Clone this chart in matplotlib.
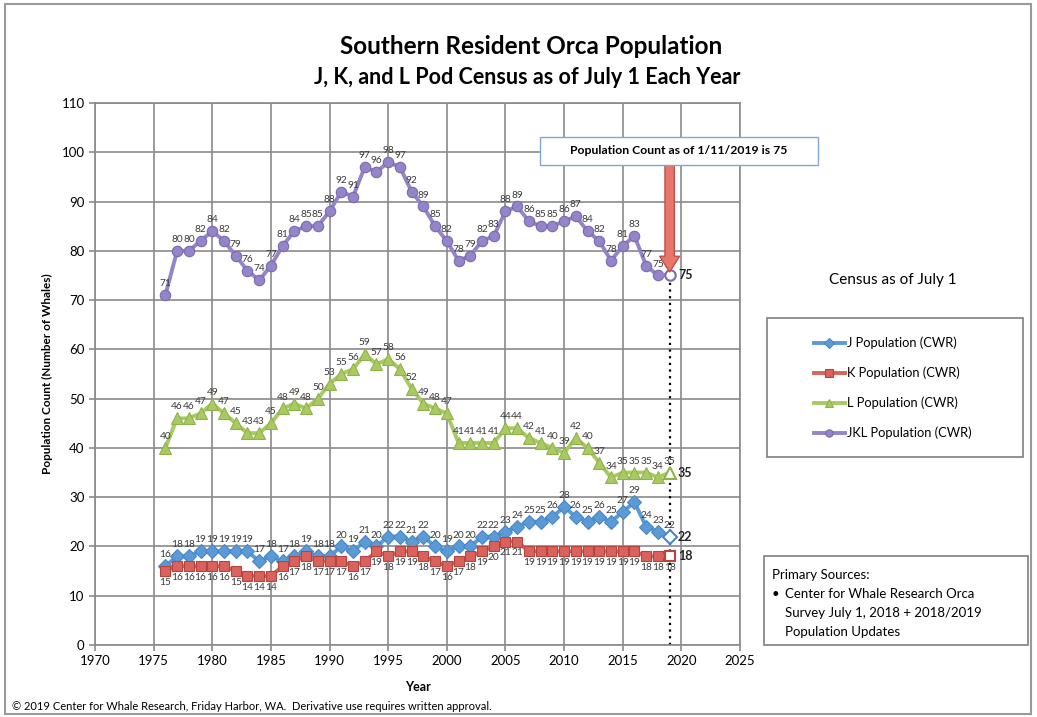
import numpy as np
import matplotlib
matplotlib.use("Agg")
from matplotlib import pyplot as plt, ticker
from matplotlib.patches import Rectangle, FancyArrow

plt.rcParams["font.family"] = ["Lato", "DejaVu Sans"]

# census as of July 1 (2019 = count as of 1/11/2019)
years = list(range(1976, 2020))
j_pop = [16, 18, 18, 19, 19, 19, 19, 19, 17, 18, 17, 18, 19, 18, 18, 20, 19, 21, 20, 22,
         22, 21, 22, 20, 19, 20, 20, 22, 22, 23, 24, 25, 25, 26, 28, 26, 25, 26, 25, 27,
         29, 24, 23, 22]
k_pop = [15, 16, 16, 16, 16, 16, 15, 14, 14, 14, 16, 17, 18, 17, 17, 17, 16, 17, 19, 18,
         19, 19, 18, 17, 16, 17, 18, 19, 20, 21, 21, 19, 19, 19, 19, 19, 19, 19, 19, 19,
         19, 18, 18, 18]
l_pop = [40, 46, 46, 47, 49, 47, 45, 43, 43, 45, 48, 49, 48, 50, 53, 55, 56, 59, 57, 58,
         56, 52, 49, 48, 47, 41, 41, 41, 41, 44, 44, 42, 41, 40, 39, 42, 40, 37, 34, 35,
         35, 35, 34, 35]
jkl_pop = [71, 80, 80, 82, 84, 82, 79, 76, 74, 77, 81, 84, 85, 85, 88, 92, 91, 97, 96, 98,
           97, 92, 89, 85, 82, 78, 79, 82, 83, 88, 89, 86, 85, 85, 86, 87, 84, 82, 78, 81,
           83, 77, 75, 75]

series = [
    ("J Population (CWR)", j_pop, "#5B9BD5", "#4A86C5", "D", 7.5, "above"),
    ("K Population (CWR)", k_pop, "#D9625C", "#B8433E", "s", 7.5, "below"),
    ("L Population (CWR)", l_pop, "#A9CA62", "#8FB24A", "^", 8.5, "above"),
    ("JKL Population (CWR)", jkl_pop, "#9484C8", "#7A69B0", "o", 7.5, "above"),
]


def fx(px):
    return px / 1037


def fy(py):
    return 1 - py / 717


fig = plt.figure(figsize=(10.37, 7.17), dpi=100)
fig.patch.set_facecolor("white")
ax = fig.add_axes([fx(95), fy(645), fx(740) - fx(95), fy(103) - fy(645)])

handles = []
for name, vals, col, edge, mk, ms, pos in series:
    x = np.array(years)
    y = np.array(vals)
    h, = ax.plot(x[:-1], y[:-1], color=col, lw=2.8, marker=mk, ms=ms,
                 markerfacecolor=col, markeredgecolor=edge, markeredgewidth=0.8,
                 label=name, zorder=3)
    ax.plot(x[-2:], y[-2:], color=col, lw=2.8, zorder=3)
    ax.plot(x[-1], y[-1], marker=mk, ms=ms, markerfacecolor="white",
            markeredgecolor=edge, markeredgewidth=1.5, zorder=4)
    handles.append(h)
    dy = 5 if pos == "above" else -5
    va = "bottom" if pos == "above" else "top"
    for xi, yi in zip(x, y):
        ax.annotate(str(yi), (xi, yi), xytext=(0, dy), textcoords="offset points",
                    ha="center", va=va, fontsize=7.3, color="#3a3a3a", zorder=5)
    # bold value at the end
    ax.annotate(str(y[-1]), (x[-1], y[-1]), xytext=(6, 0), textcoords="offset points",
                ha="left", va="center", fontsize=9, fontweight="bold", color="#222222",
                zorder=5)

# dotted drop line for the 2019 count
ax.plot([2019, 2019], [0, jkl_pop[-1]], color="black", lw=1.6, ls=(0, (1, 2)), zorder=2)

# red arrow from the callout box down to the 2019 count
arrow = FancyArrow(2019, 100.5, 0, -(100.5 - jkl_pop[-1] - 0.7), width=0.8,
                   head_width=1.7, head_length=3.2, length_includes_head=True,
                   facecolor="#E8776B", edgecolor="#C0504D", lw=1, zorder=6)
ax.add_patch(arrow)

ax.set_xlim(1970, 2025)
ax.set_ylim(0, 110)
ax.xaxis.set_major_locator(ticker.MultipleLocator(5))
ax.yaxis.set_major_locator(ticker.MultipleLocator(10))
ax.grid(True, color="#8a8a8a", lw=1.2, zorder=0)
ax.set_axisbelow(True)
for sp in ax.spines.values():
    sp.set_color("#8a8a8a")
    sp.set_linewidth(1.2)
ax.tick_params(colors="#8a8a8a", labelcolor="black", labelsize=9.5, length=4, width=1.2)
ax.set_xlabel("Year", fontsize=9, fontweight="bold", labelpad=10)
ax.set_ylabel("Population Count (Number of Whales)", fontsize=8.5, fontweight="bold",
              labelpad=6)

fig.text(fx(531), fy(46), "Southern Resident Orca Population", ha="center", va="center",
         fontsize=17.5, fontweight="bold")
fig.text(fx(527), fy(77), "J, K, and L Pod Census as of July 1 Each Year", ha="center",
         va="center", fontsize=15.5, fontweight="bold")

# callout box
fig.patches.append(Rectangle((fx(540), fy(165)), fx(818) - fx(540), fy(137) - fy(165),
                             transform=fig.transFigure, facecolor="white",
                             edgecolor="#7FA8D0", lw=1, zorder=7))
fig.text(fx(679), fy(151), "Population Count as of 1/11/2019 is 75", ha="center",
         va="center", fontsize=8.8, fontweight="bold", zorder=8)

# legend
fig.text(fx(893), fy(280), "Census as of July 1", ha="center", va="center", fontsize=11)
fig.patches.append(Rectangle((fx(767), fy(457)), fx(1023) - fx(767), fy(318) - fy(457),
                             transform=fig.transFigure, facecolor="white",
                             edgecolor="#7f7f7f", lw=1.2, zorder=1))
leg = fig.legend(handles=handles, loc="center", bbox_to_anchor=(fx(893), fy(388)),
                 frameon=False, fontsize=9.3, handlelength=2.4, labelspacing=1.35,
                 handletextpad=0.2, markerscale=0.7)

# sources box
fig.patches.append(Rectangle((fx(764), fy(645)), fx(1028) - fx(764), fy(556) - fy(645),
                             transform=fig.transFigure, facecolor="white",
                             edgecolor="#7f7f7f", lw=1.2, zorder=1))
fig.text(fx(772), fy(575), "Primary Sources:", ha="left", va="center", fontsize=9.5)
fig.text(fx(772), fy(594), "\u2022", ha="left", va="center", fontsize=9.5)
fig.text(fx(785), fy(594), "Center for Whale Research Orca", ha="left", va="center",
         fontsize=9.5)
fig.text(fx(785), fy(613), "Survey July 1, 2018 + 2018/2019", ha="left", va="center",
         fontsize=9.5)
fig.text(fx(785), fy(632), "Population Updates", ha="left", va="center", fontsize=9.5)

# footer
fig.text(fx(12), fy(706), "\u00a9 2019 Center for Whale Research, Friday Harbor, WA.  "
         "Derivative use requires written approval.", ha="left", va="center", fontsize=8)

# outer border
fig.patches.append(Rectangle((fx(5), fy(714)), fx(1031) - fx(5), fy(4) - fy(714),
                             transform=fig.transFigure, facecolor="none",
                             edgecolor="#9a9a9a", lw=1.5))

fig.savefig("out.png", dpi=100)
